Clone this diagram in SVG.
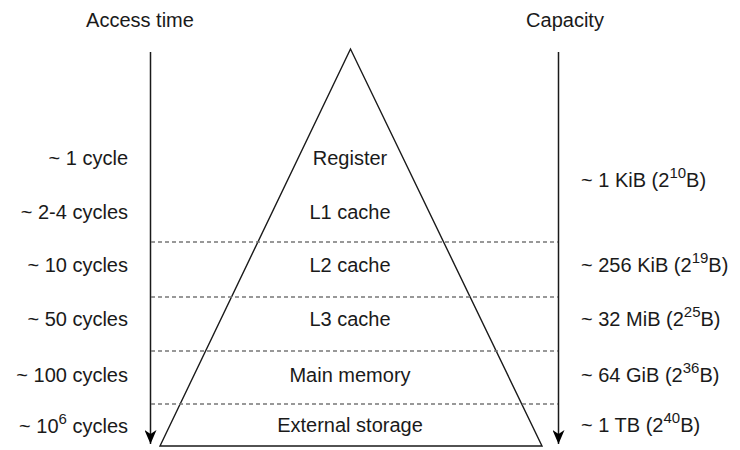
<svg xmlns="http://www.w3.org/2000/svg" width="740" height="450" viewBox="0 0 740 450">
<style>
text{font-family:"Liberation Sans",Arial,Helvetica,sans-serif;font-size:20px;fill:#1a1a1a}
.l{text-anchor:end}
.c{text-anchor:middle}
.sup{font-size:15px}
.dash{stroke:#777;stroke-width:1.3;stroke-dasharray:4 3;fill:none}
.ax{stroke:#1a1a1a;stroke-width:1.5;fill:none}
</style>
<defs>
<marker id="ah" markerWidth="14" markerHeight="12" refX="14" refY="6" orient="auto" markerUnits="userSpaceOnUse" viewBox="0 0 14 12">
<path d="M0,0 L14,6 L0,12 L4,6 Z" fill="#000"/>
</marker>
</defs>
<g id="headers">
<text class="c" x="140" y="27">Access time</text>
<text class="c" x="565" y="27">Capacity</text>
</g>
<g id="connectors">
<line class="ax" x1="150.5" y1="52" x2="150.5" y2="444" marker-end="url(#ah)"/>
<line class="ax" x1="558.5" y1="52" x2="558.5" y2="444" marker-end="url(#ah)"/>
</g>
<g id="pyramid">
<polygon points="350.5,49 160,446 542,446" fill="none" stroke="#1a1a1a" stroke-width="1.4"/>
<line class="dash" x1="151" y1="242" x2="558" y2="242"/>
<line class="dash" x1="151" y1="297" x2="558" y2="297"/>
<line class="dash" x1="151" y1="351" x2="558" y2="351"/>
<line class="dash" x1="151" y1="404" x2="558" y2="404"/>
</g>
<g id="layers">
<text class="c" x="350" y="165">Register</text>
<text class="c" x="350" y="219">L1 cache</text>
<text class="c" x="350" y="272">L2 cache</text>
<text class="c" x="350" y="326">L3 cache</text>
<text class="c" x="350" y="382">Main memory</text>
<text class="c" x="350" y="432">External storage</text>
</g>
<g id="access-times">
<text class="l" x="128" y="165">~ 1 cycle</text>
<text class="l" x="128" y="219">~ 2-4 cycles</text>
<text class="l" x="128" y="272">~ 10 cycles</text>
<text class="l" x="128" y="326">~ 50 cycles</text>
<text class="l" x="128" y="382">~ 100 cycles</text>
<text class="l" x="128" y="433">~ 10<tspan class="sup" dy="-9">6</tspan><tspan dy="9"> cycles</tspan></text>
</g>
<g id="capacities">
<text x="581" y="187">~ 1 KiB (2<tspan class="sup" dy="-9">10</tspan><tspan dy="9">B)</tspan></text>
<text x="581" y="272">~ 256 KiB (2<tspan class="sup" dy="-9">19</tspan><tspan dy="9">B)</tspan></text>
<text x="581" y="326">~ 32 MiB (2<tspan class="sup" dy="-9">25</tspan><tspan dy="9">B)</tspan></text>
<text x="581" y="382">~ 64 GiB (2<tspan class="sup" dy="-9">36</tspan><tspan dy="9">B)</tspan></text>
<text x="581" y="432">~ 1 TB (2<tspan class="sup" dy="-9">40</tspan><tspan dy="9">B)</tspan></text>
</g>
</svg>
